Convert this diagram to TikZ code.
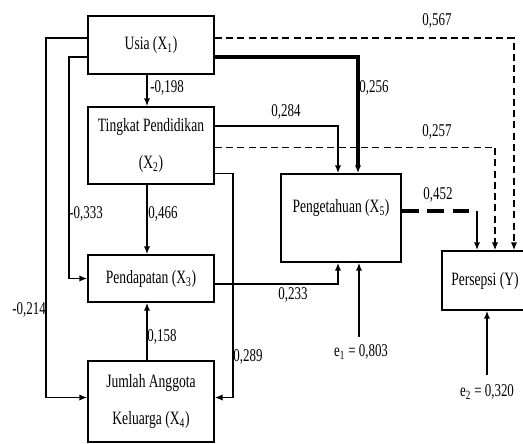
\documentclass[tikz,border=0pt]{standalone}
\usepackage{fontspec}
\setmainfont{Liberation Serif}[FakeStretch=0.72]
\usetikzlibrary{arrows.meta, positioning, calc}

\begin{document}
\begin{tikzpicture}[
    var/.style={draw, line width=1.3pt, minimum width=3.15cm, inner sep=2pt, align=center, font=\fontsize{13.4}{26}\selectfont},
    arr/.style={-{Latex[length=5.5pt, width=4.5pt]}, line width=0.95pt},
    dsh/.style={arr, line width=0.8pt, dash pattern=on 5pt off 3pt},
    thk/.style={arr, line width=2.4pt},
    coef/.style={font=\fontsize{12.8}{14}\selectfont, inner sep=1pt}
  ]
    \useasboundingbox (0,0) rectangle (13.075,-11.075);

    % variables
    \node[var, minimum height=1.45cm] (X1) at (3.775,-1.125) {Usia (X\textsubscript{1})};
    \node[var, minimum height=1.925cm] (X2) at (3.775,-3.6375) {Tingkat Pendidikan\\(X\textsubscript{2})};
    \node[var, minimum height=1.175cm] (X3) at (3.775,-6.9625) {Pendapatan (X\textsubscript{3})};
    \node[var, minimum height=2.025cm] (X4) at (3.775,-10.0375) {Jumlah Anggota\\Keluarga (X\textsubscript{4})};
    \node[var, minimum width=3cm, minimum height=2.2cm, text depth=0.6cm] (X5) at (8.525,-5.45) {Pengetahuan (X\textsubscript{5})};
    \node[var, minimum width=2.15cm, minimum height=1.475cm] (Y) at (12.125,-7.0125) {Persepsi (Y)};

    % residuals
    \node[coef] (e1) at (9.025,-8.8) {e\textsubscript{1} = 0,803};
    \node[coef] (e2) at (12.175,-9.8) {e\textsubscript{2} = 0,320};

    % paths on the left
    \draw[arr] ([yshift=0.175cm]X1.west) -- ++(-1.025,0) |- ([yshift=0.1cm]X4.west);
    \draw[arr] ([yshift=-0.3cm]X1.west) -- ++(-0.45,0) |- (X3.west);
    \draw[arr] ([xshift=-0.1cm]X1.south) -- ([xshift=-0.1cm]X2.north);
    \draw[arr] ([xshift=-0.1cm]X2.south) -- ([xshift=-0.1cm]X3.north);
    \draw[arr] ([xshift=-0.1cm]X4.north) -- ([xshift=-0.1cm]X3.south);
    \draw[arr] ([yshift=-0.7cm]X2.east) -- ++(0.45,0) |- ([yshift=0.1cm]X4.east);

    % paths to Pengetahuan
    \draw[thk] ([yshift=-0.3cm]X1.east) -| ([xshift=0.425cm]X5.north);
    \draw[arr] ([yshift=0.49cm]X2.east) -| ([xshift=-0.075cm]X5.north);
    \draw[arr] ([yshift=-0.14cm]X3.east) -| ([xshift=-0.075cm]X5.south);
    \draw[arr] ([xshift=-0.05cm, yshift=0.15cm]e1.north) -- ([xshift=-0.05cm]e1.north |- X5.south);

    % paths to Persepsi
    \draw[dsh] ([yshift=0.175cm]X1.east) -| ([xshift=0.725cm]Y.north);
    \draw[dsh] ([yshift=-0.04cm]X2.east) -| ([xshift=0.25cm]Y.north);
    \coordinate (k5) at ([yshift=0.175cm]X5.east -| 11.925,0);
    \draw[line width=2.6pt, dash pattern=on 12pt off 6pt] ([yshift=0.175cm]X5.east) -- (k5);
    \draw[arr, line width=1.2pt] (k5) -- (k5 |- Y.north);
    \draw[arr] ([yshift=0.2cm]e2.north) -- (e2.north |- Y.south);

    % coefficients
    \node[coef] at (10.925,-0.525) {0,567};
    \node[coef] at (9.35,-2.2) {0,256};
    \node[coef] at (7.15,-2.8) {0,284};
    \node[coef] at (10.925,-3.3) {0,257};
    \node[coef] at (4.175,-2.2) {-0,198};
    \node[coef] at (2.15,-5.35) {-0,333};
    \node[coef] at (4.075,-5.35) {0,466};
    \node[coef] at (10.95,-4.875) {0,452};
    \node[coef] at (7.325,-7.375) {0,233};
    \node[coef] at (0.725,-7.75) {-0,214};
    \node[coef] at (4.05,-8.425) {0,158};
    \node[coef] at (6.2,-8.925) {0,289};
\end{tikzpicture}
\end{document}
